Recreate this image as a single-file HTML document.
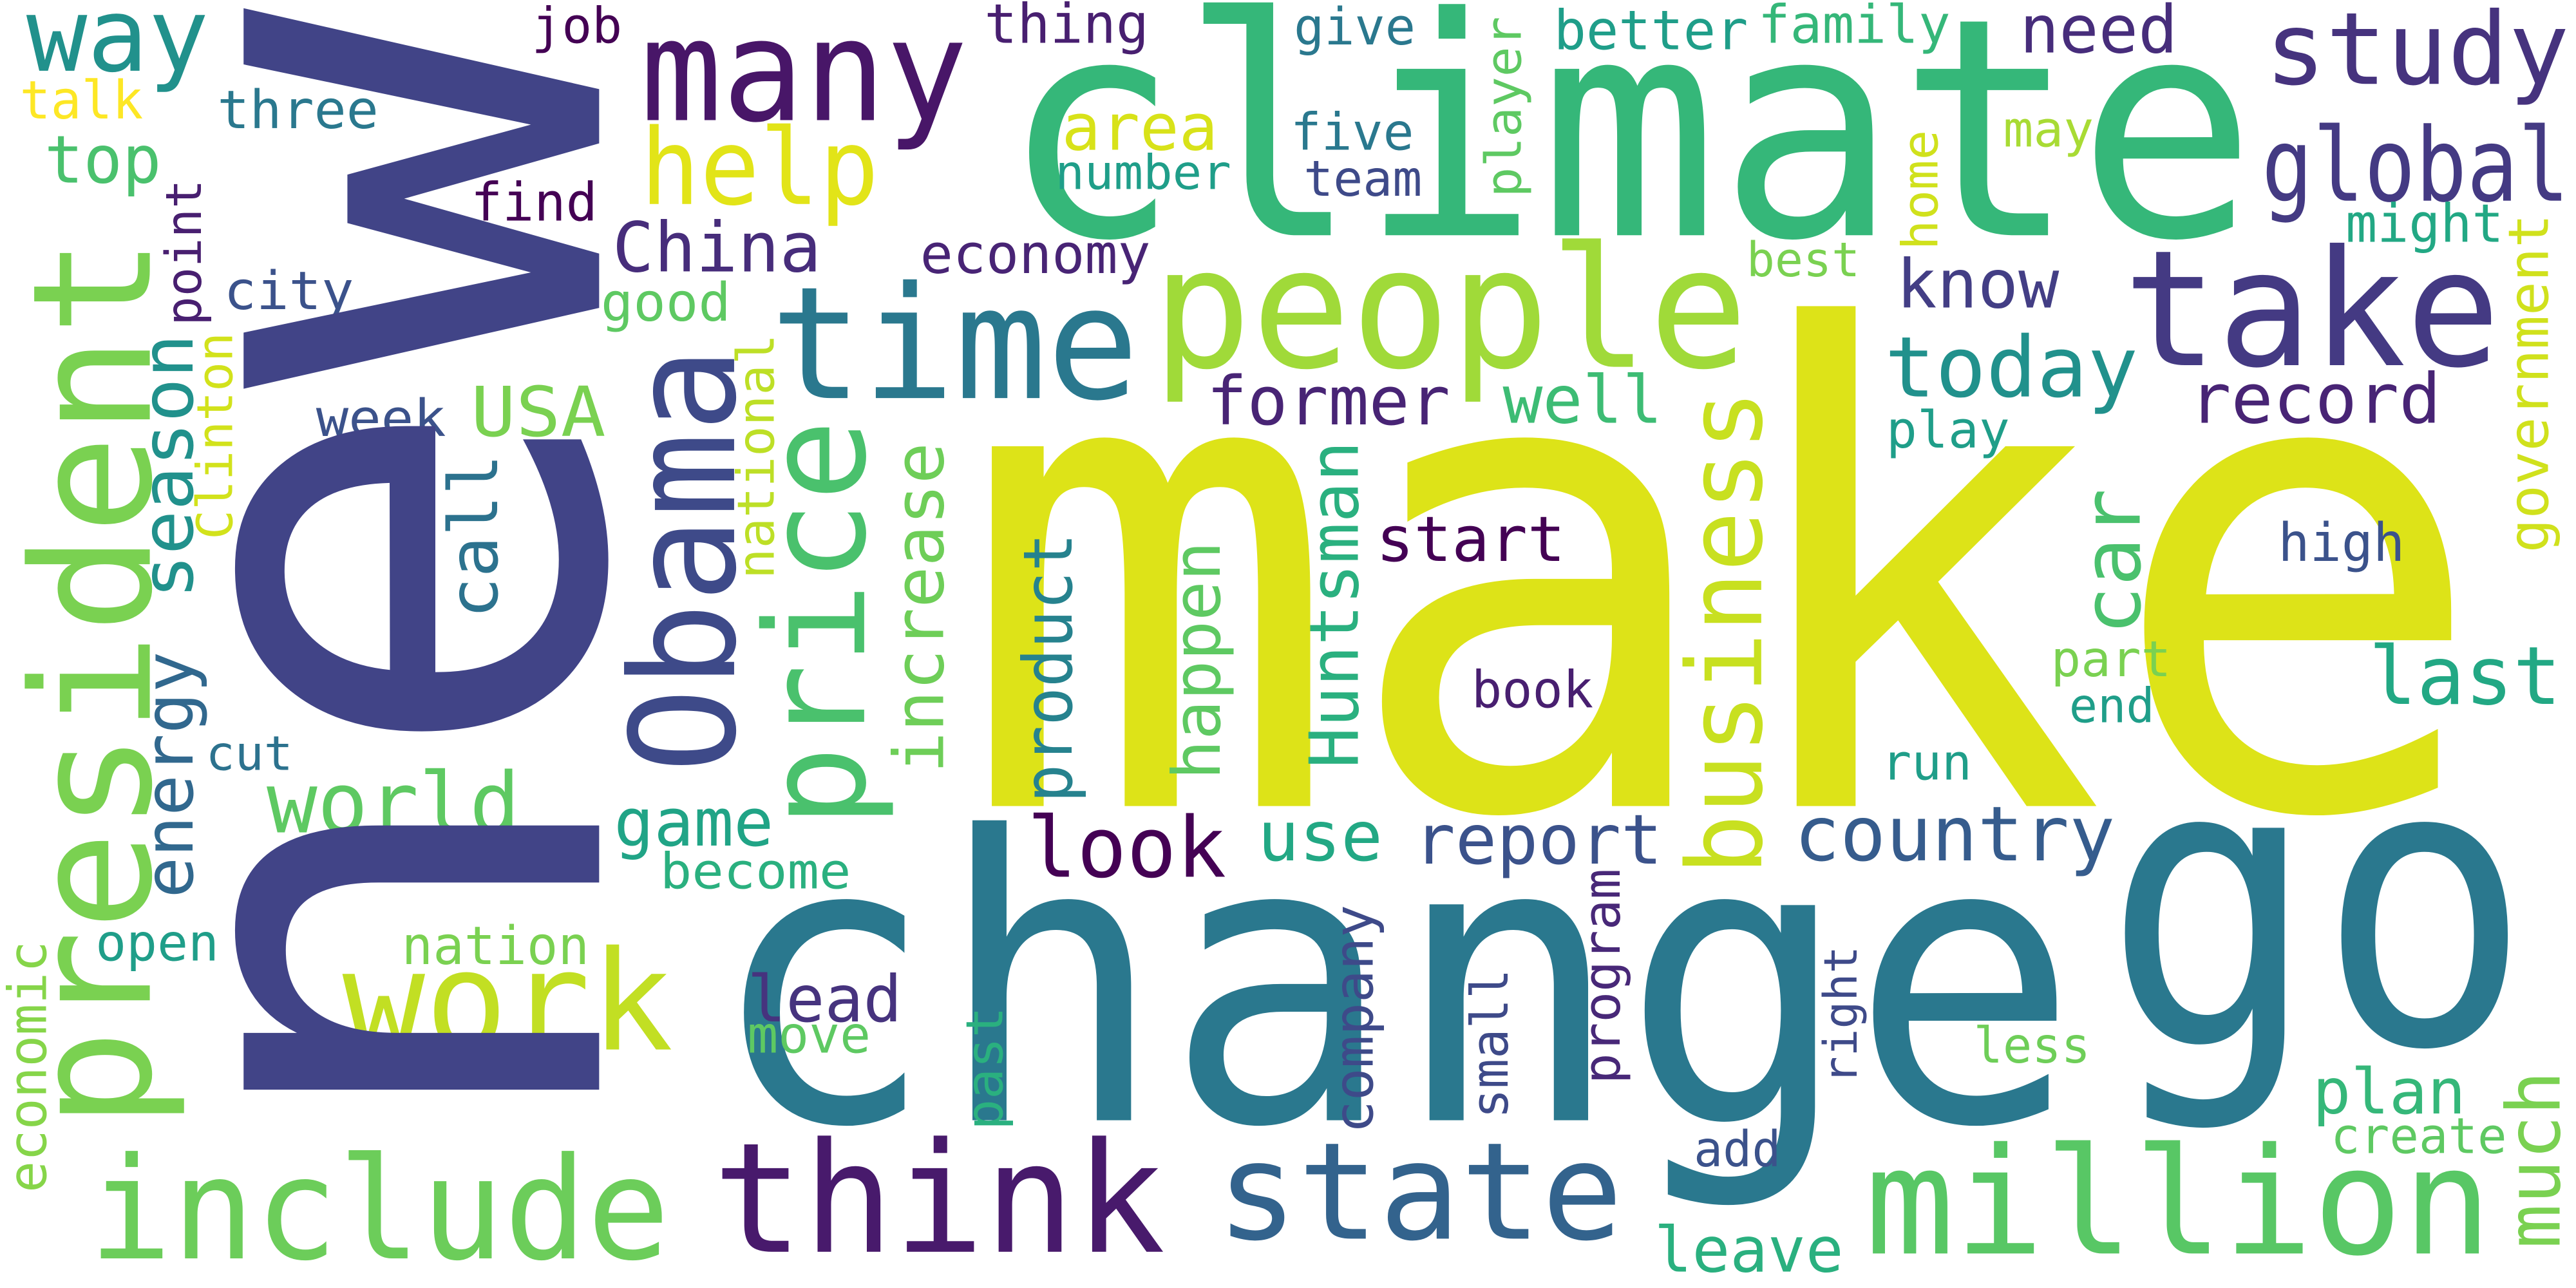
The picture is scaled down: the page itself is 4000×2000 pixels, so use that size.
<!DOCTYPE html>
<html><head><meta charset="utf-8"><title>Word cloud</title>
<style>
html,body{margin:0;padding:0;background:#fff;}
svg{display:block;}
text{font-family:"DejaVu Sans Mono","Liberation Mono",monospace;}
</style></head>
<body>
<svg id="cloud" width="4000" height="2000" viewBox="0 0 1565 783" preserveAspectRatio="none" xmlns="http://www.w3.org/2000/svg">
<rect x="0" y="0" width="1565" height="783" fill="#ffffff"/>
</svg>
<script>
// horizontal words: text, x0, x1, baseline, fontSize, color
var hWords = [
["make",582,1512,490,400,"#dde318"],
["change",430,1263,681,240,"#2a788e"],
["go",1278,1538,634,240,"#2a788e"],
["climate",608,1371,143,185,"#35b779"],
["people",700,1062,223,102,"#a0da39"],
["time",468,692,242,95,"#2a788e"],
["take",1290,1519,222,98,"#443a83"],
["many",389,588,73,86,"#481668"],
["study",1376,1561,51,61,"#46337e"],
["help",389,534,124,64,"#e2e418"],
["area",645,740,91,39,"#d8e219"],
["global",1374,1561,122,62,"#443a83"],
["China",372,499,165,42,"#472d7b"],
["economy",559,699,166,33,"#482475"],
["know",1152,1251,187,41,"#433e85"],
["today",1145,1299,241,51,"#21918c"],
["record",1330,1483,257,42,"#482475"],
["former",733,881,258,41,"#482475"],
["well",913,1010,257,40,"#3dbc74"],
["USA",286,368,265,42,"#7ad151"],
["week",192,271,265,31,"#3b528b"],
["city",136,215,188,32,"#3b528b"],
["good",365,444,195,32,"#5ec962"],
["find",286,363,134,32,"#440154"],
["three",132,230,78,32,"#2a788e"],
["way",16,127,43,62,"#21918c"],
["talk",12,87,72,32,"#fde725"],
["top",27,98,111,40,"#4ac16d"],
["job",323,378,26,30,"#440154"],
["thing",598,698,26,33,"#481f70"],
["give",786,860,27,31,"#2a788e"],
["better",944,1062,30,33,"#1f9e89"],
["family",1068,1185,26,32,"#35b779"],
["need",1227,1323,32,40,"#472d7b"],
["five",784,859,91,31,"#2a788e"],
["number",641,748,115,29,"#1f9e89"],
["team",792,864,119,30,"#3e4a89"],
["may",1217,1272,89,30,"#a8db34"],
["might",1425,1521,147,32,"#22a884"],
["best",1061,1130,168,29,"#7ad151"],
["start",836,951,341,38,"#440154"],
["play",1146,1221,272,31,"#1f9e89"],
["high",1384,1461,341,32,"#3b528b"],
["last",1439,1556,428,49,"#22a884"],
["book",894,968,430,31,"#481f70"],
["part",1246,1319,411,30,"#7ad151"],
["end",1257,1309,439,29,"#1f9e89"],
["run",1143,1198,474,30,"#1f9e89"],
["world",162,316,506,51,"#5ec962"],
["cut",125,178,468,29,"#2c728e"],
["game",373,470,514,40,"#20a486"],
["look",624,745,533,51,"#440154"],
["use",764,840,523,42,"#22a884"],
["report",859,1010,525,42,"#3b528b"],
["country",1090,1285,523,46,"#365c8d"],
["become",401,517,540,30,"#2ab07f"],
["work",208,409,638,84,"#c2df23"],
["open",58,133,584,31,"#1f9e89"],
["nation",244,358,586,32,"#7ad151"],
["lead",454,548,621,39,"#46337e"],
["move",454,529,640,31,"#5ec962"],
["plan",1405,1498,677,38,"#35b779"],
["create",1416,1523,701,30,"#5ec962"],
["less",1199,1270,646,30,"#6ece58"],
["add",1029,1082,709,30,"#3b528b"],
["leave",1005,1120,773,38,"#2ab07f"],
["include",54,407,765,86,"#6ccd5a"],
["think",433,708,761,93,"#481a6c"],
["state",739,986,753,82,"#33638d"],
["million",1133,1514,762,90,"#58c765"]
];
// vertical words: text, baselineX, yTop, yBottom, fontSize, color
var vWords = [
["new",364,5,699,395,"#414487"],
["president",91,144,686,100,"#7ad151"],
["Obama",446,211,470,88,"#3e4a89"],
["price",525,255,503,84,"#4ac16d"],
["business",1070,237,532,63,"#c8e020"],
["season",117,203,364,44,"#21918c"],
["energy",117,396,546,41,"#31688e"],
["call",302,276,376,41,"#2c728e"],
["point",122,109,198,30,"#481f70"],
["Clinton",141,202,328,30,"#d2e21b"],
["national",470,203,352,31,"#bddf26"],
["increase",573,269,470,42,"#6ece58"],
["product",651,324,488,41,"#26828e"],
["happen",741,329,474,40,"#5ec962"],
["Huntsman",825,268,467,41,"#2ab07f"],
["car",1300,297,386,49,"#4ac16d"],
["home",1177,79,152,30,"#d0e11c"],
["player",924,10,120,30,"#5ec962"],
["government",1548,130,336,34,"#d0e11c"],
["economic",28,572,725,32,"#86d549"],
["past",609,612,687,31,"#2ab07f"],
["company",834,550,689,33,"#3e4a89"],
["small",916,589,680,31,"#3e4a89"],
["program",984,528,659,31,"#482878"],
["right",1128,575,659,28,"#3e4a89"],
["much",1555,651,759,45,"#7ad151"]
];
var NS = "http://www.w3.org/2000/svg";
var svg = document.getElementById("cloud");
hWords.forEach(function(w){
  var t = document.createElementNS(NS,"text");
  t.setAttribute("x", w[1]);
  t.setAttribute("y", w[3]);
  t.setAttribute("font-size", w[4]);
  t.setAttribute("fill", w[5]);
  t.setAttribute("textLength", w[2]-w[1]);
  t.setAttribute("lengthAdjust", "spacingAndGlyphs");
  
  
  t.textContent = w[0];
  svg.appendChild(t);
});
vWords.forEach(function(w){
  var t = document.createElementNS(NS,"text");
  t.setAttribute("x", 0);
  t.setAttribute("y", 0);
  t.setAttribute("transform", "translate(" + w[1] + "," + w[3] + ") rotate(-90)");
  t.setAttribute("font-size", w[4]);
  t.setAttribute("fill", w[5]);
  t.setAttribute("textLength", w[3]-w[2]);
  t.setAttribute("lengthAdjust", "spacingAndGlyphs");
  
  
  t.textContent = w[0];
  svg.appendChild(t);
});
</script>
</body></html>
